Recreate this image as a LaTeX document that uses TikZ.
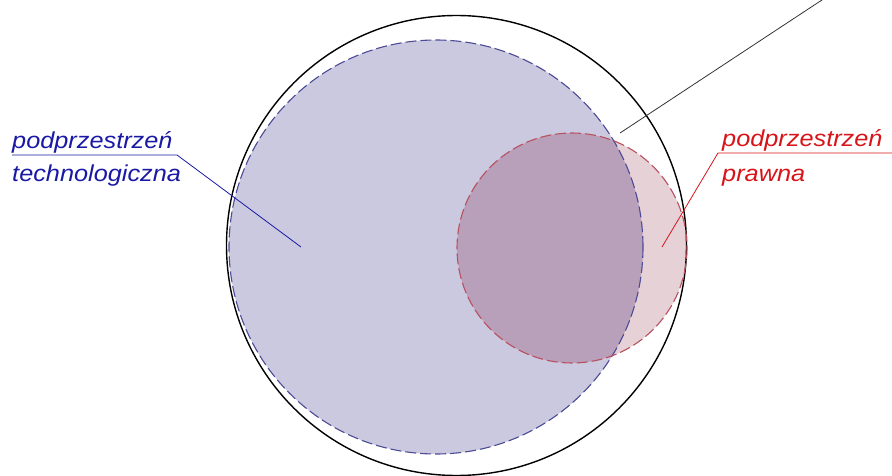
\documentclass[tikz,border=0pt]{standalone}
\usepackage{fontspec}
\setmainfont{Liberation Sans}
\definecolor{techfill}{RGB}{203,201,223}
\definecolor{lawfill}{RGB}{230,210,214}
\definecolor{bothfill}{RGB}{184,160,186}
\definecolor{techline}{RGB}{75,75,150}
\definecolor{lawline}{RGB}{185,80,95}
\definecolor{techtext}{RGB}{25,25,165}
\definecolor{lawtext}{RGB}{215,20,25}
\tikzset{
  lbl/.style={inner sep=0pt, anchor=base west, font=\fontsize{23}{23}\selectfont\itshape, xscale=1.1},
  dashline/.style={line width=1.1pt, dash pattern=on 11pt off 4pt},
}
\begin{document}
\begin{tikzpicture}[x=1pt,y=-1pt]
\useasboundingbox (0,0) rectangle (892,476);
\clip (0,0) rectangle (892,476);
% coordinates
\coordinate (oc) at (456.5,245.5);
\coordinate (tc) at (436,247);
\coordinate (lc) at (572,248);
% fills
\fill[techfill] (tc) circle[radius=207];
\fill[lawfill] (lc) circle[radius=115];
\begin{scope}
  \clip (tc) circle[radius=207];
  \fill[bothfill] (lc) circle[radius=115];
\end{scope}
% outlines
\draw[black, line width=1.4pt] (oc) circle[radius=230];
\draw[techline, dashline] (tc) circle[radius=207];
\draw[lawline, dashline] (lc) circle[radius=115];
% labels
\node[lbl, text=techtext] (t1) at (12,149) {podprzestrzeń};
\node[lbl, text=techtext] (t2) at (12,182) {technologiczna};
\node[lbl, text=lawtext] (l1) at (722,147) {podprzestrzeń};
\node[lbl, text=lawtext] (l2) at (722,182) {prawna};
% leaders
\coordinate (tu0) at (12,155);
\coordinate (tu1) at (177,155);
\coordinate (tp) at (301,247);
\draw[techtext, line width=0.8pt] (tu0) -- (tu1) -- (tp);
\coordinate (lu0) at (892,153);
\coordinate (lu1) at (718,153);
\coordinate (lp) at (662,247);
\draw[lawtext, line width=0.8pt] (lu0) -- (lu1) -- (lp);
\coordinate (b0) at (620,133);
\coordinate (b1) at (828,-4);
\draw[black!80, line width=0.8pt] (b0) -- (b1);
\end{tikzpicture}
\end{document}
